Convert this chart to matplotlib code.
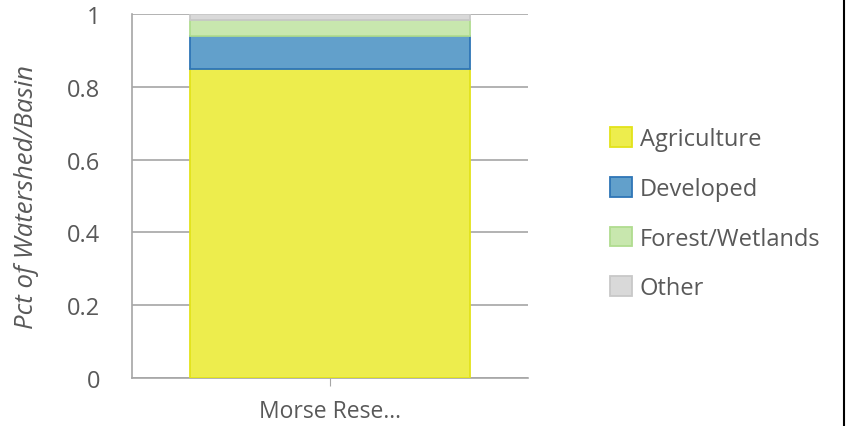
import matplotlib
matplotlib.use("Agg")
import matplotlib.pyplot as plt
from matplotlib.patches import Patch
from matplotlib.lines import Line2D

# Land-use share for the single watershed shown
CATEGORY = ["Morse Rese..."]
SERIES = ["Agriculture", "Developed", "Forest/Wetlands", "Other"]
VALUES = [0.849, 0.091, 0.043, 0.017]

FILL = ["#eded4d", "#62a0cb", "#c8e7ae", "#d9d9d9"]
EDGE = ["#e3e31a", "#2e75b6", "#b0dc8f", "#c8c8c8"]
TXT = "#595959"
GRID = "#a6a6a6"

plt.rcParams["font.family"] = ["Open Sans", "DejaVu Sans"]

fig = plt.figure(figsize=(8.5, 4.27), dpi=100)
ax = fig.add_axes([132 / 850, 1 - 379 / 427, (528 - 132) / 850, (379 - 15) / 427])

bottom = 0.0
for name, v, fc, ec in zip(SERIES, VALUES, FILL, EDGE):
    ax.bar(0, v, bottom=bottom, width=0.705, color=fc, edgecolor=ec,
           linewidth=1.3, label=name, zorder=3)
    bottom += v

ax.set_xlim(-0.5, 0.5)
ax.set_ylim(0, 1)
ax.set_yticks([0, 0.2, 0.4, 0.6, 0.8, 1.0])
ax.set_yticklabels(["0", "0.2", "0.4", "0.6", "0.8", "1"])
ax.set_xticks([0])
ax.set_xticklabels(CATEGORY)
ax.tick_params(axis="y", length=0, pad=23, labelsize=17, labelcolor=TXT)
ax.tick_params(axis="x", length=6, color=GRID, pad=9, labelsize=16.5, labelcolor=TXT,
               direction="out")
ax.yaxis.grid(True, color=GRID, linewidth=1.2, zorder=0)
ax.set_axisbelow(True)
for side in ("top", "right"):
    ax.spines[side].set_visible(False)
for side in ("left", "bottom"):
    ax.spines[side].set_color(GRID)
    ax.spines[side].set_linewidth(1.2)

ax.set_ylabel("Pct of Watershed/Basin", fontsize=18.5, style="italic", color=TXT,
              labelpad=20)

handles = [Patch(facecolor=fc, edgecolor=ec, linewidth=1.3, label=n)
           for n, fc, ec in zip(SERIES, FILL, EDGE)]
leg = fig.legend(handles=handles, loc="center left", bbox_to_anchor=(0.693, 0.497),
                 frameon=False, fontsize=17, labelspacing=1.09, handlelength=0.9,
                 handleheight=0.9, handletextpad=0.35)
for t in leg.get_texts():
    t.set_color(TXT)

# chart frame edge on the right
fig.add_artist(Line2D([844 / 850, 844 / 850], [0, 1], color="black", linewidth=1.5,
                      transform=fig.transFigure))

fig.savefig("out.png", dpi=100)
